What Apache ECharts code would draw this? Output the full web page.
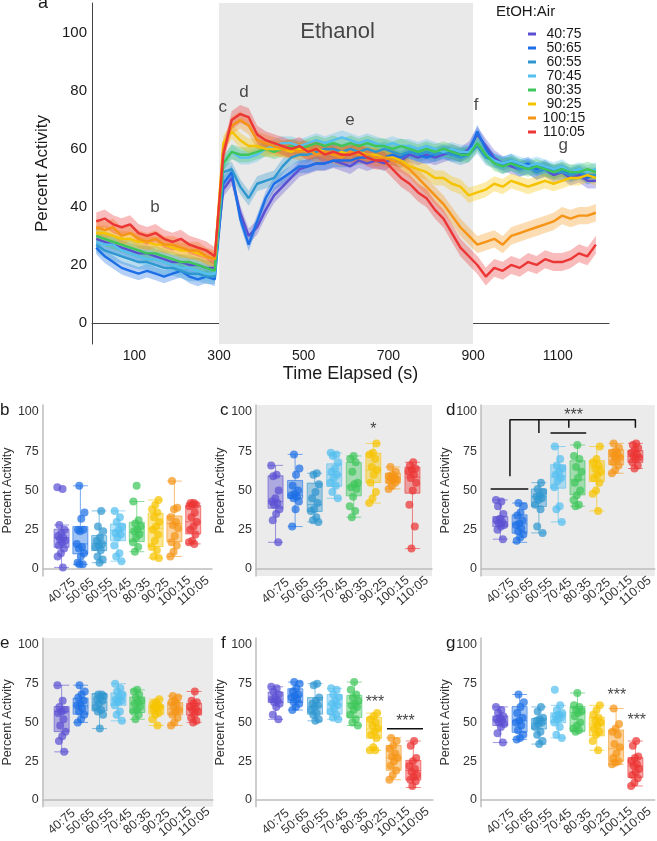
<!DOCTYPE html>
<html><head><meta charset="utf-8">
<script src="https://cdn.jsdelivr.net/npm/echarts@6/dist/echarts.min.js"></script>
<style>html,body{margin:0;padding:0;background:#fff}#c{width:657px;height:841px}</style>
</head><body><div id="c"></div>
<script>
// ---------- DATA ----------
const groups = ['40:75','50:65','60:55','70:45','80:35','90:25','100:15','110:05'];
const colors = ['#5b50d2','#1c6fe6','#2f97d0','#55bff0','#3ec65a','#f6c300','#f59416','#ec3535'];

const timeSec = [10,30,50,70,90,110,130,150,170,190,210,230,250,270,290,310,330,350,370,390,410,430,450,470,490,510,530,550,570,590,610,630,650,670,690,710,730,750,770,790,810,830,850,870,890,910,930,950,970,990,1010,1030,1050,1070,1090,1110,1130,1150,1170,1190];

const act_40_75 = [29,28,27,26,25, 24,24,23,22,21, 21,20,20,19,19, 46,50,38,30,33, 39,44,47,50,53, 54,55,55,56,55, 54,56,55,56,55, 57,56,58,57,58, 57,58,59,58,60, 65,61,57,55,54, 53,54,52,53,51, 52,50,51,49,49];
const act_50_65 = [26,23,21,19,18, 17,18,17,16,17, 18,16,15,16,15, 48,52,36,27,35, 43,48,50,52,54, 54,55,55,56,56, 56,57,57,58,57, 58,57,59,58,57, 58,59,58,58,59, 66,60,56,55,56, 54,55,53,54,52, 53,51,52,50,51];
const act_60_55 = [27,25,24,23,22, 21,21,20,19,19, 18,17,17,16,16, 52,53,47,43,48, 49,50,54,57,58, 58,59,60,60,59, 60,59,60,59,60, 59,58,59,58,59, 58,59,58,57,58, 61,57,56,54,55, 53,54,52,53,52, 52,51,52,51,51];
const act_70_45 = [28,27,27,25,24, 23,22,22,21,20, 19,19,18,17,17, 55,59,57,57,58, 60,61,62,62,61, 62,63,62,63,64, 63,62,63,62,61, 62,61,61,60,61, 60,59,60,59,59, 62,58,56,55,56, 55,54,55,54,53, 54,52,53,52,53];
const act_80_35 = [30,29,28,27,26, 25,24,24,23,22, 21,21,20,19,18, 55,59,58,58,59, 60,59,60,61,60, 61,62,61,62,61, 62,61,62,61,61, 60,61,60,59,60, 59,60,59,58,58, 62,58,55,54,55, 54,53,54,53,52, 53,52,52,53,52];
const act_90_25 = [31,31,30,29,29, 28,28,27,27,26, 25,25,24,23,22, 62,66,63,61,61, 60,60,60,59,60, 59,60,59,58,59, 58,59,58,58,57, 57,56,54,53,52, 50,50,48,47,44, 45,46,48,47,49, 48,47,48,49,48, 49,50,50,51,50];
const act_100_15 = [33,32,33,30,31, 29,28,29,27,27, 26,25,25,23,22, 60,68,70,68,63, 62,61,60,60,59, 60,58,59,58,57, 59,58,58,57,57, 56,55,53,50,47, 44,41,37,33,30, 27,28,29,27,30, 31,32,33,34,35, 37,36,37,37,38];
const act_110_05 = [35,36,34,33,34, 31,30,31,29,28, 29,27,26,25,23, 58,70,72,71,65, 63,62,61,60,61, 59,60,58,59,58, 58,59,57,56,56, 53,50,48,45,43, 39,36,31,26,23, 20,16,19,18,20, 19,21,20,22,21, 21,22,24,23,27];
const ciHalf = [2.6,2.3,2.6,2.4,2.6,2.6,3,3.1];

const xTickLabels = [100,300,500,700,900,1100];
const yTickLabels = [0,20,40,60,80,100];
const smallYTicks = [0,25,50,75,100];

// box stats [min, Q1, median, Q3, max] and individual points, per panel
const box_b = [[1,13.8,20,25.3,28],[3,9.6,16,27,53],[4,11.7,16.4,21.3,37],[5,18,24.5,28.7,37],[11,17.4,23.5,29.8,43],[7,14.3,26,35.5,44],[8,17.4,29,33.8,56],[16,22.3,30,40.5,42]];
const pts_b = [[52,51,28,25,23,21,20,19,18,17,15,13,10,8,1],[53,36,32,25,25,24,16,14,13,10,8,4,3,3],[37,27,24,20,18,16,15,14,12,8,6,4],[37,33,30,27,25,23,22,20,15,10,8,5],[53,43,31,29,27,25,24,22,20,17,14,11],[44,41,38,36,33,30,27,25,22,18,14,12,8,7],[56,39,38,33,30,28,26,21,17,15,11,8],[42,42,41,41,40,36,33,30,27,25,22,18,17,16]];
const box_c = [[17,38.7,43,59.4,66],[27,45,47,56.4,73],[30,36.6,41,54.7,61],[45,52.6,60,67,74],[33,46.6,52.6,67.9,72],[42,55.1,63,73.8,80],[51,54.7,58.5,61,65],[13,48.3,58.5,64.9,68]];
const pts_c = [[66,60,59,50,45,43,42,41,38,35,31,17],[73,64,60,53,50,48,47,46,45,43,38,27],[61,60,54,49,45,42,38,37,33,31,30],[74,73,72,68,64,62,60,58,55,53,49,45],[72,70,68,62,55,54,52,51,46,40,37,33],[80,74,73,70,65,63,60,55,49,45,42],[65,62,60,59,58,58,57,57,56,55,53,51],[68,66,64,63,62,60,58,55,50,41,27,13]];
const box_d = [[19,27,30,33.4,44],[17,22.8,28.7,34.5,42],[23,39.8,46,51,55],[30,51.5,59,66.4,78],[40,47.2,56.8,69,79],[37,55.7,65,69,78],[61,66.4,71.7,76,80],[64,67.9,71.7,75.5,80]];
const pts_d = [[44,43,40,35,32,31,30,29,28,27,25,19],[42,40,36,34,31,29,28,26,24,22,20,18],[55,51,49,47,46,45,44,41,38,27,23],[78,70,66,64,62,60,58,56,52,40,38,30],[79,72,70,65,62,58,55,50,47,44,41,40],[78,70,68,66,64,62,60,58,55,50,48,37],[80,77,75,74,73,72,71,70,68,66,63,61],[80,79,77,76,74,73,72,71,70,68,66,64]];
const box_e = [[31,44,57,60.2,74],[50,55.3,60.6,65.7,74],[46,57.4,62.8,68.5,68.5],[51,61,65,69,75],[52,56.4,62,66.4,71],[48,55.3,59.6,61,65],[48,54.9,58.5,62.8,67],[50,54.7,58.5,62.3,70]];
const pts_e = [[74,64,60,58,57,56,52,48,44,41,38,31],[74,70,68,66,64,62,61,59,57,55,52,50],[68,68,67,66,65,64,62,60,58,57,55,46],[75,72,70,68,66,65,64,63,61,57,55,51],[71,70,68,66,64,63,62,60,58,57,55,52],[65,63,62,61,60,60,59,58,56,55,52,48],[67,66,64,63,62,60,58,57,55,53,50,48],[70,64,63,62,60,59,58,57,55,53,51,50]];
const box_f = [[52,62.8,65,69.6,73],[58,62.8,67,71.7,76],[51,55.3,60.2,66,75],[52,55.3,61.7,68,72],[48,53.2,62.3,67.4,76],[32,39.8,45.7,53.2,56],[13,19.1,27,35.1,40],[8,12.8,19,25.5,38]];
const pts_f = [[73,72,70,68,66,65,64,63,62,60,55,52],[76,75,72,70,68,67,66,65,63,62,60,58],[75,74,66,64,62,61,60,58,56,55,52,51],[72,71,68,66,64,62,61,59,57,55,53,52],[76,71,68,66,64,62,61,60,58,55,52,50,48],[56,54,52,50,48,46,44,42,40,34,32,32],[40,38,35,33,30,28,27,25,22,19,16,13],[38,35,27,25,22,20,18,16,15,13,12,9]];
const box_g = [[37,48,51.5,54.2,60],[39,43.6,51,60.2,68],[36,45.7,49.4,52.5,60],[40,49.8,53.6,56.2,61],[44,44.5,56.4,60.2,69],[32,41.3,49,53.4,61],[23,25,33,45.1,59],[9,14.5,21.9,27.3,38]];
const pts_g = [[60,58,56,54,53,52,51,50,49,47,43,37],[68,63,60,56,53,51,50,48,45,42,40,39],[60,57,53,52,51,50,49,47,44,42,38,36],[71,61,58,56,55,54,53,52,50,47,42,40],[69,61,60,58,57,56,54,50,48,46,45,44],[61,58,55,53,51,50,48,46,44,42,38,32],[59,49,46,44,42,36,34,30,27,25,24,23],[38,35,28,27,25,23,22,20,18,16,14,11,9]];

// annotations (data coordinates)
const timeLabels = [['Ethanol',580,100.2,22],['b',149,40,17],['c',309,74.5,17],['d',359,79.6,17],['e',609,69.7,17],['f',907,75,17],['g',1113,61.4,17]];
const sigText = {c:[['*',6,88.5]], d:[['***',4.8,97.5]], f:[['***',6.05,63],['***',7.6,50.3]], g:[['***',7.04,67.5],['***',8.07,51]]};
const sigLines = {d:[[[1.5,59],[1.5,95],[8,95],[8,90]],[[3,95],[3,86.6]],[[4.55,95],[4.55,90]],[[3.6,86.6],[5.45,86.6]],[[0.5,51],[2.45,51]]], f:[[[6.66,45.9],[8.49,45.9]]]};

// ---------- CHART ----------
const FONT = '"Liberation Sans", Arial, Helvetica, sans-serif';
const TXT = '#1a1a1a';
function rgba(hex,a){const n=parseInt(hex.slice(1),16);return 'rgba('+((n>>16)&255)+','+((n>>8)&255)+','+(n&255)+','+a+')';}
const seriesVals = [act_40_75,act_50_65,act_60_55,act_70_45,act_80_35,act_90_25,act_100_15,act_110_05];

const grid=[{left:92,top:3,width:517,height:341}];
const xAxis=[{gridIndex:0,type:'value',min:0,max:1221,
  axisLine:{lineStyle:{color:'#444',width:1}},axisTick:{show:false},splitLine:{show:false},
  axisLabel:{customValues:xTickLabels,formatter:v=>String(v),fontSize:14,color:TXT,margin:5,fontFamily:FONT},
  name:'Time Elapsed (s)',nameLocation:'middle',nameGap:21,nameTextStyle:{fontSize:18,color:TXT,fontFamily:FONT}}];
const yAxis=[{gridIndex:0,type:'value',min:-7.24,max:110.3,
  axisLine:{show:true,lineStyle:{color:'#444',width:1}},axisTick:{show:false},splitLine:{show:false},
  axisLabel:{customValues:yTickLabels,formatter:v=>String(v),fontSize:15,color:TXT,margin:5,fontFamily:FONT},
  name:'Percent Activity',nameLocation:'middle',nameGap:26,nameTextStyle:{fontSize:17,color:TXT,fontFamily:FONT}}];
const series=[];

// confidence bands (one polygon per group, drawn through the axes)
series.push({type:'custom',xAxisIndex:0,yAxisIndex:0,silent:true,z:2,
  data:groups.map((g,i)=>[timeSec[0],seriesVals[i][0]]),
  renderItem:(params,api)=>{
    const i=params.dataIndex, vals=seriesVals[i], h=ciHalf[i];
    const up=timeSec.map((t,k)=>api.coord([t,vals[k]+h]));
    const dn=timeSec.map((t,k)=>api.coord([t,vals[k]-h])).reverse();
    return {type:'polygon',shape:{points:up.concat(dn)},style:{fill:rgba(colors[i],0.33)}};
  },
  markArea:{silent:true,itemStyle:{color:'#e9e9e9'},data:[[{xAxis:300},{xAxis:900}]]}
});
// mean lines
seriesVals.forEach((vals,i)=>{
  series.push({name:groups[i],type:'line',xAxisIndex:0,yAxisIndex:0,symbol:'none',z:3,
    lineStyle:{width:2.4,color:colors[i]},itemStyle:{color:colors[i]},data:timeSec.map((t,k)=>[t,vals[k]])});
});
// text annotations on the time chart
series.push({type:'scatter',xAxisIndex:0,yAxisIndex:0,symbolSize:1,silent:true,z:5,itemStyle:{color:'transparent'},
  data:timeLabels.map(p=>({value:[p[1],p[2]],name:p[0],label:{fontSize:p[3]}})),
  label:{show:true,position:'inside',formatter:'{b}',color:TXT,fontFamily:FONT}});

// small panels
const panels=[
  {k:'b',g:{left:38,top:405,width:174,height:171},gray:false,box:box_b,pts:pts_b},
  {k:'c',g:{left:256,top:405,width:176,height:171},gray:true,box:box_c,pts:pts_c},
  {k:'d',g:{left:481,top:405,width:174,height:171},gray:true,box:box_d,pts:pts_d},
  {k:'e',g:{left:38,top:638,width:175,height:171},gray:true,box:box_e,pts:pts_e},
  {k:'f',g:{left:256,top:638,width:177,height:171},gray:false,box:box_f,pts:pts_f},
  {k:'g',g:{left:481,top:638,width:174,height:171},gray:false,box:box_g,pts:pts_g}
];
panels.forEach((p,pi)=>{
  const gi=pi+1;
  grid.push(Object.assign({show:p.gray,backgroundColor:'#ebebeb',borderWidth:0},p.g));
  xAxis.push({gridIndex:gi,type:'value',min:0,max:9,interval:1,
    axisLine:{lineStyle:{color:'#bdbdbd',width:1.5}},axisTick:{show:false},splitLine:{show:false},
    axisLabel:{formatter:v=>(v>=1&&v<=8)?groups[v-1]:'',rotate:40,align:'center',verticalAlign:'middle',margin:15,fontSize:12.5,color:'#333',fontFamily:FONT}});
  yAxis.push({gridIndex:gi,type:'value',min:-4.46,max:104.46,
    axisLine:{show:true,lineStyle:{color:'#bdbdbd',width:1.5}},axisTick:{show:false},splitLine:{show:false},
    axisLabel:{customValues:smallYTicks,formatter:v=>String(v),fontSize:12.5,color:'#333',margin:4,fontFamily:FONT},
    name:'Percent Activity',nameLocation:'middle',nameGap:23,nameTextStyle:{fontSize:12.5,color:'#333',fontFamily:FONT}});
  series.push({type:'boxplot',xAxisIndex:gi,yAxisIndex:gi,boxWidth:[15,15],silent:true,z:2,
    data:p.box.map((s,k)=>({value:[k+1].concat(s),itemStyle:{color:rgba(colors[k],0.42),borderColor:rgba(colors[k],0.6),borderWidth:1}}))});
  p.pts.forEach((arr,k)=>{
    series.push({type:'scatter',xAxisIndex:gi,yAxisIndex:gi,symbolSize:8,silent:true,z:3,
      itemStyle:{color:colors[k],opacity:0.72},
      data:arr.map((v,j)=>[k+1+(((j*0.618034+k*0.37)%1)-0.5)*0.45,v])});
  });
  (sigLines[p.k]||[]).forEach(seg=>{
    series.push({type:'line',xAxisIndex:gi,yAxisIndex:gi,symbol:'none',silent:true,z:4,
      lineStyle:{color:'#111',width:1.5},data:seg});
  });
  if(sigText[p.k]){
    series.push({type:'scatter',xAxisIndex:gi,yAxisIndex:gi,symbolSize:1,silent:true,z:5,itemStyle:{color:'transparent'},
      data:sigText[p.k].map(s=>({value:[s[1],s[2]],name:s[0]})),
      label:{show:true,position:'inside',formatter:'{b}',fontSize:16,color:'#111',fontFamily:FONT}});
  }
});

const letter=(t,x,y,fs)=>({type:'text',left:x,top:y,style:{text:t,fontSize:fs,fill:TXT,fontFamily:FONT}});
const option={
  animation:false,
  backgroundColor:'#fff',
  grid,xAxis,yAxis,series,
  legend:{data:groups,orient:'vertical',left:528,top:27,padding:0,itemGap:0,itemWidth:8,itemHeight:3,icon:'rect',
    formatter:n=>'{a|'+n+'}',
    textStyle:{rich:{a:{width:46,align:'center',fontSize:14,lineHeight:12,color:TXT,fontFamily:FONT}}}},
  graphic:[
    letter('a',38,-6,18),
    {type:'text',left:496,top:4,style:{text:'EtOH:Air',fontSize:15,fill:TXT,fontFamily:FONT}},
    letter('b',0,402,17),letter('c',220,402,17),letter('d',446,402,17),
    letter('e',0,635,17),letter('f',221,635,17),letter('g',446,635,17)
  ]
};
const chart=echarts.init(document.getElementById('c'));
chart.setOption(option);
</script>
</body></html>
